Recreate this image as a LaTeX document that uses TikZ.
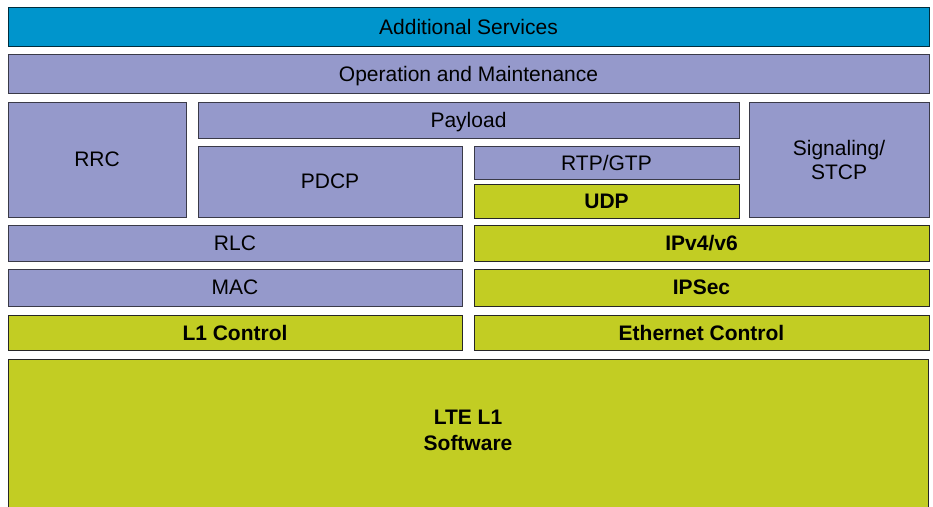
\documentclass[tikz,border=0pt]{standalone}
\usepackage{fontspec}
\setmainfont{Liberation Sans}
\definecolor{bluec}{HTML}{0095CC}
\definecolor{lavc}{HTML}{9599CB}
\definecolor{grnc}{HTML}{C2CD23}
\definecolor{edgec}{HTML}{3A3A48}
\begin{document}
\begin{tikzpicture}[x=1pt,y=-1pt,
  base/.style={draw=edgec, line width=1pt, inner sep=0pt, outer sep=0pt, anchor=north west,
    align=center, font=\fontsize{21}{24}\selectfont, text=black},
  one/.style={text depth=0pt},
  blu/.style={base, one, fill=bluec, draw=black!70!bluec},
  lav/.style={base, one, fill=lavc},
  lavm/.style={base, fill=lavc},
  grn/.style={base, one, fill=grnc, draw=black!85, font=\fontsize{21}{24}\selectfont\bfseries}]
\useasboundingbox (0,0) rectangle (933,506);
\clip (0,0) rectangle (933,506);
\node[blu, minimum width=921pt, minimum height=39pt] (add) at (8,7) {Additional Services};
\node[lav, minimum width=921pt, minimum height=39pt] (oam) at (8,54) {Operation and Maintenance};
\node[lav, minimum width=178pt, minimum height=115pt] (rrc) at (8,102) {RRC};
\node[lav, minimum width=541pt, minimum height=36pt] (pay) at (198,102) {Payload};
\node[lav, minimum width=264pt, minimum height=71pt] (pdcp) at (198,146) {PDCP};
\node[lav, minimum width=265pt, minimum height=33pt] (rtp) at (474,146) {RTP/GTP};
\node[grn, minimum width=265pt, minimum height=34pt] (udp) at (474,184) {UDP};
\node[lavm, minimum width=180pt, minimum height=115pt] (sig) at (749,102) {Signaling/\\STCP};
\node[lav, minimum width=454pt, minimum height=36pt] (rlc) at (8,225) {RLC};
\node[grn, minimum width=455pt, minimum height=36pt] (ip) at (474,225) {IPv4/v6};
\node[lav, minimum width=454pt, minimum height=37pt] (mac) at (8,269) {MAC};
\node[grn, minimum width=455pt, minimum height=37pt] (ipsec) at (474,269) {IPSec};
\node[grn, minimum width=454pt, minimum height=35pt] (l1c) at (8,315) {L1 Control};
\node[grn, minimum width=455pt, minimum height=35pt] (eth) at (474,315) {Ethernet Control};
\node[grn, minimum width=920pt, minimum height=155pt] (lte) at (8,359) {};
\node[font=\fontsize{21}{26}\selectfont\bfseries, align=center, inner sep=0pt] (ltet) at (468,430) {LTE L1\\Software};
\end{tikzpicture}
\end{document}
